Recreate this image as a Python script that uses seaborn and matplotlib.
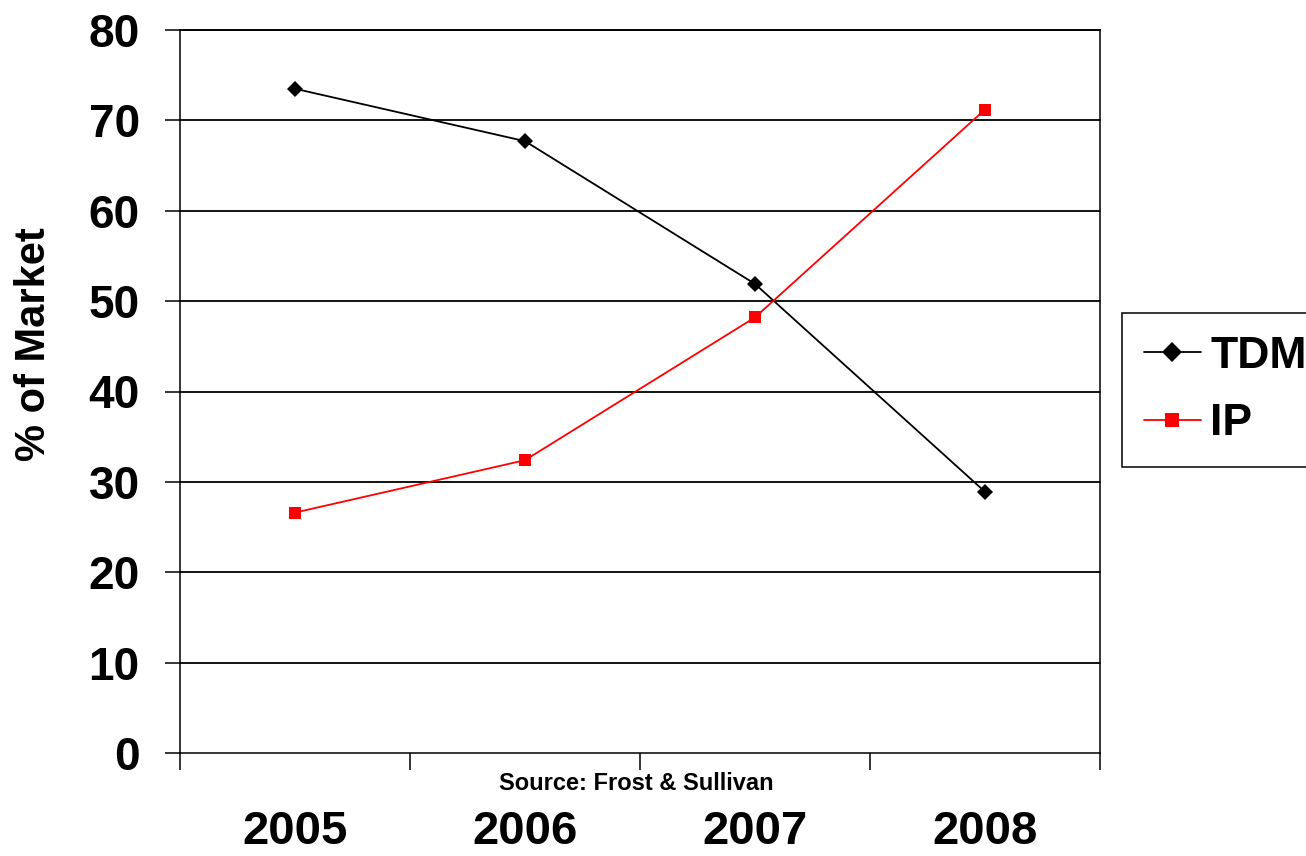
import pandas as pd
import matplotlib
matplotlib.use("Agg")
import matplotlib.pyplot as plt
import seaborn as sns
from matplotlib.ticker import FixedLocator

years = [2005, 2006, 2007, 2008]
tdm = [73.5, 67.7, 51.9, 28.9]
ip = [26.6, 32.4, 48.2, 71.2]
y_ticks = [0, 10, 20, 30, 40, 50, 60, 70, 80]

df = pd.DataFrame({
    "year": years * 2,
    "share": tdm + ip,
    "series": ["TDM"] * 4 + ["IP"] * 4,
})

sns.set_style("white", {
    "text.color": "black", "axes.labelcolor": "black",
    "xtick.color": "black", "ytick.color": "black",
    "xtick.bottom": True, "ytick.left": True,
})
fam = ["Liberation Sans", "DejaVu Sans"]
plt.rcParams["font.family"] = fam

fig = plt.figure(figsize=(13.06, 8.56), dpi=100)
ax = fig.add_axes([180 / 1306, 1 - 753 / 856, 920 / 1306, 723 / 856])

# horizontal gridlines under the data
for v in y_ticks[1:]:
    ax.axhline(v, color="black", lw=1.3, zorder=1, clip_on=False)

sns.lineplot(data=df, x="year", y="share", hue="series", style="series",
             palette={"TDM": "black", "IP": "#ff0000"},
             markers={"TDM": "D", "IP": "s"}, dashes=False,
             markersize=8.5, markeredgewidth=0, lw=1.3, ax=ax, zorder=3)

ax.set_xlim(2004.5, 2008.5)
ax.set_ylim(0, 80)
ax.set_yticks(y_ticks)
ax.set_yticklabels([str(v) for v in y_ticks], fontsize=33, fontweight="bold")
ax.set_xticks(years)
ax.set_xticklabels([str(y) for y in years], fontsize=34, fontweight="bold")
ax.tick_params(axis="x", which="major", length=0, pad=41)
ax.xaxis.set_minor_locator(FixedLocator([2004.5, 2005.5, 2006.5, 2007.5, 2008.5]))
ax.tick_params(axis="x", which="minor", bottom=True, length=12, width=1.1, color="black", direction="out")
ax.tick_params(axis="y", length=11, width=1.1, color="black", direction="out", pad=18)

for s in ["left", "bottom", "right", "top"]:
    ax.spines[s].set_color("black")
    ax.spines[s].set_linewidth(1.1)
    ax.spines[s].set_visible(True)

ax.set_xlabel("")
ax.set_ylabel("% of Market", fontsize=30, fontweight="bold")
ax.yaxis.set_label_coords(-126 / 920, 0.565)

fig.text(636 / 1306, 1 - 783 / 856, "Source: Frost & Sullivan", ha="center", va="center",
         fontsize=17, fontweight="bold")

handles, labels = ax.get_legend_handles_labels()
leg = fig.legend(handles, labels, loc="center left", bbox_to_anchor=(1122 / 1306, 1 - 390 / 856),
                 frameon=True, fancybox=False, edgecolor="black", framealpha=1,
                 prop={"size": 32, "weight": "bold"}, markerscale=1.15,
                 handlelength=1.27, handletextpad=0.22, borderpad=0.5, labelspacing=0.6,
                 borderaxespad=0)
leg.get_frame().set_linewidth(1.1)
ax.get_legend().remove()

fig.savefig("out.png", dpi=100)
